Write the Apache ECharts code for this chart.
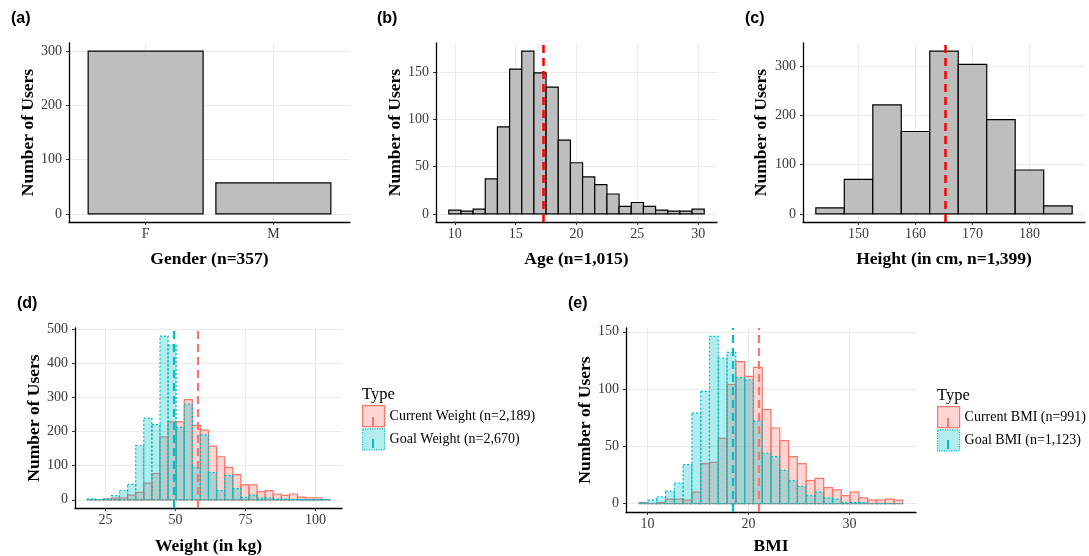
<!DOCTYPE html>
<html>
<head>
<meta charset="utf-8">
<script src="https://cdn.jsdelivr.net/npm/echarts@6/dist/echarts.min.js"></script>
<style>
  html, body { margin: 0; padding: 0; background: #fff; }
  #chart { width: 1089px; height: 556px; }
</style>
</head>
<body>
<div id="chart"></div>
<script>
// ---- data ----
const genderCats = ['F', 'M'];
const genderCounts = [300, 57];

const ageBins = [10, 11, 12, 13, 14, 15, 16, 17, 18, 19, 20, 21, 22, 23, 24, 25, 26, 27, 28, 29, 30];
const ageCounts = [4, 3, 5, 37, 92, 153, 172, 149, 134, 78, 54, 39, 31, 21, 8, 12, 8, 4, 3, 3, 5];
const ageMean = 17.28;

const heightBins = [145, 150, 155, 160, 165, 170, 175, 180, 185];
const heightCounts = [12, 70, 221, 167, 330, 303, 191, 89, 16];
const heightMean = 165.2;

const weightBins = [19.85, 22.74, 25.63, 28.52, 31.41, 34.30, 37.19, 40.08, 42.97, 45.86,
  48.75, 51.64, 54.53, 57.42, 60.31, 63.20, 66.09, 68.98, 71.87, 74.76,
  77.65, 80.54, 83.43, 86.32, 89.21, 92.10, 94.99, 97.88, 100.77, 103.66];
const weightCurrent = [0, 0, 2, 5, 6, 14, 22, 49, 77, 184, 228, 228, 293, 218, 204, 157, 126, 95, 74, 44,
  44, 24, 27, 17, 13, 17, 8, 6, 6, 1];
const weightGoal = [3, 1, 3, 12, 28, 45, 159, 239, 220, 479, 453, 212, 280, 96, 190, 80, 27, 71, 33, 7,
  14, 5, 6, 2, 2, 1, 0, 0, 0, 1];
const weightMeans = [57.8, 49.4];

const bmiBins = [9.61, 10.48, 11.35, 12.22, 13.09, 13.96, 14.83, 15.70, 16.57, 17.44,
  18.31, 19.18, 20.05, 20.92, 21.79, 22.66, 23.53, 24.40, 25.27, 26.14,
  27.01, 27.88, 28.75, 29.62, 30.49, 31.36, 32.23, 33.10, 33.97, 34.84];
const bmiCurrent = [1, 0, 1, 4, 4, 3, 10, 35, 36, 57, 104, 124, 111, 119, 82, 66, 55, 41, 35, 20,
  22, 14, 12, 7, 10, 5, 3, 3, 4, 3];
const bmiGoal = [1, 3, 6, 11, 18, 34, 79, 98, 146, 127, 132, 110, 108, 72, 44, 41, 29, 20, 15, 7,
  10, 5, 4, 1, 1, 1, 0, 0, 0, 0];
const bmiMeans = [21.05, 18.48];

const weightLegend = ['Current Weight (n=2,189)', 'Goal Weight (n=2,670)'];
const bmiLegend = ['Current BMI (n=991)', 'Goal BMI (n=1,123)'];

const genderTicksY = [0, 100, 200, 300];
const ageTicksX = [10, 15, 20, 25, 30];
const ageTicksY = [0, 50, 100, 150];
const heightTicksX = [150, 160, 170, 180];
const heightTicksY = [0, 100, 200, 300];
const weightTicksX = [25, 50, 75, 100];
const weightTicksY = [0, 100, 200, 300, 400, 500];
const bmiTicksX = [10, 20, 30];
const bmiTicksY = [0, 50, 100, 150];

// ---- styling ----
const SERIF = "'Liberation Serif', 'Times New Roman', serif";
const SANS = "'Liberation Sans', Arial, sans-serif";
const RED = '#F8766D', TEAL = '#00BFC4';
const RED_FILL = 'rgba(248,118,109,0.3)', TEAL_FILL = 'rgba(0,191,196,0.3)';

// ggplot-like 5% padding on continuous scales
const expand = (lo, hi) => { const d = (hi - lo) * 0.05; return [lo - d, hi + d]; };

const chart = echarts.init(document.getElementById('chart'));

function xAxis(grid, range, ticks, name, gap, fmt) {
  return {
    type: 'value', gridIndex: grid, min: range[0], max: range[1],
    name: name, nameLocation: 'middle', nameGap: gap,
    nameTextStyle: { fontFamily: SERIF, fontWeight: 'bold', fontSize: 17.5, color: '#000' },
    axisLine: { show: true, onZero: false, lineStyle: { color: '#000', width: 1.3 } },
    axisTick: { show: true, length: 3, customValues: ticks, lineStyle: { color: '#333' } },
    axisLabel: { customValues: ticks, margin: 5, fontFamily: SERIF, fontSize: 14, color: '#3a3a3a', formatter: fmt },
    splitLine: { show: true, lineStyle: { color: '#ebebeb', width: 1 } }
  };
}

function yAxis(grid, range, ticks, gap) {
  return {
    type: 'value', gridIndex: grid, min: range[0], max: range[1],
    name: 'Number of Users', nameLocation: 'middle', nameGap: gap,
    nameTextStyle: { fontFamily: SERIF, fontWeight: 'bold', fontSize: 17.5, color: '#000' },
    axisLine: { show: true, onZero: false, lineStyle: { color: '#000', width: 1.3 } },
    axisTick: { show: true, length: 3, customValues: ticks, lineStyle: { color: '#333' } },
    axisLabel: { customValues: ticks, margin: 7, fontFamily: SERIF, fontSize: 14, color: '#3a3a3a' },
    splitLine: { show: true, lineStyle: { color: '#ebebeb', width: 1 } }
  };
}

// one rect per bin, placed through the axis scales
function histSeries(grid, name, bins, counts, width, style) {
  return {
    type: 'custom', name: name, xAxisIndex: grid, yAxisIndex: grid,
    data: bins.map((b, i) => [b, counts[i]]),
    itemStyle: { color: style.fill, borderColor: style.stroke, borderWidth: style.lineWidth },
    silent: true,
    renderItem: (params, api) => {
      const c = api.value(0), v = api.value(1);
      const p0 = api.coord([c - width / 2, v]);
      const p1 = api.coord([c + width / 2, 0]);
      return {
        type: 'rect',
        shape: { x: p0[0], y: p0[1], width: p1[0] - p0[0], height: p1[1] - p0[1] },
        style: style
      };
    }
  };
}

function meanLine(grid, value, color, width) {
  return {
    type: 'line', xAxisIndex: grid, yAxisIndex: grid, data: [], silent: true,
    markLine: {
      silent: true, symbol: 'none', label: { show: false },
      lineStyle: { color: color, width: width, type: [8, 5] },
      data: [{ xAxis: value }]
    }
  };
}

const greyStyle = { fill: '#bebebe', stroke: '#000', lineWidth: 1.2 };
const curStyle = { fill: RED_FILL, stroke: RED, lineWidth: 1.2 };
const goalStyle = { fill: TEAL_FILL, stroke: TEAL, lineWidth: 1.2, lineDash: [2, 2] };

const ageW = ageBins[1] - ageBins[0];
const heightW = heightBins[1] - heightBins[0];
const weightW = weightBins[1] - weightBins[0];
const bmiW = bmiBins[1] - bmiBins[0];

const ageX = expand(ageBins[0] - ageW / 2, ageBins[ageBins.length - 1] + ageW / 2);
const heightX = expand(heightBins[0] - heightW / 2, heightBins[heightBins.length - 1] + heightW / 2);
const weightX = expand(weightBins[0] - weightW / 2, weightBins[weightBins.length - 1] + weightW / 2);
const bmiX = expand(bmiBins[0] - bmiW / 2, bmiBins[bmiBins.length - 1] + bmiW / 2);

const genderY = expand(0, Math.max(...genderCounts));
const ageY = expand(0, Math.max(...ageCounts));
const heightY = expand(0, Math.max(...heightCounts));
const weightY = expand(0, Math.max(...weightCurrent, ...weightGoal));
const bmiY = expand(0, Math.max(...bmiCurrent, ...bmiGoal));

const panelLabel = (text, left, top) => ({
  text: text, left: left, top: top, padding: 0,
  textStyle: { fontFamily: SANS, fontWeight: 'bold', fontSize: 16, color: '#000' }
});

const legendText = { fontFamily: SERIF, fontSize: 14, color: '#000' };

const legendItems = names => names.map((n, i) => ({
  name: n,
  itemStyle: i === 0
    ? { color: RED_FILL, borderColor: RED, borderWidth: 1.2 }
    : { color: TEAL_FILL, borderColor: TEAL, borderWidth: 1.2, borderType: 'dotted' }
}));

const option = {
  animation: false,
  backgroundColor: '#fff',
  title: [
    panelLabel('(a)', 11, 11),
    panelLabel('(b)', 377, 11),
    panelLabel('(c)', 745, 11),
    panelLabel('(d)', 17, 296),
    panelLabel('(e)', 568, 296)
  ],
  grid: [
    { left: 69, top: 43, width: 281, height: 179 },
    { left: 436, top: 43, width: 281, height: 179 },
    { left: 803, top: 43, width: 282, height: 179 },
    { left: 75, top: 328, width: 267, height: 180 },
    { left: 626, top: 328, width: 290, height: 184 }
  ],
  xAxis: [
    xAxis(0, [0.4, 2.6], [1, 2], 'Gender (n=357)', 28, v => genderCats[Math.round(v) - 1]),
    xAxis(1, ageX, ageTicksX, 'Age (n=1,015)', 28),
    xAxis(2, heightX, heightTicksX, 'Height (in cm, n=1,399)', 28),
    xAxis(3, weightX, weightTicksX, 'Weight (in kg)', 29),
    xAxis(4, bmiX, bmiTicksX, 'BMI', 25)
  ],
  yAxis: [
    yAxis(0, genderY, genderTicksY, 32),
    yAxis(1, ageY, ageTicksY, 31),
    yAxis(2, heightY, heightTicksY, 33),
    yAxis(3, weightY, weightTicksY, 31),
    yAxis(4, bmiY, bmiTicksY, 32)
  ],
  legend: [
    {
      data: legendItems(weightLegend),
      orient: 'vertical', left: 362, top: 405, padding: 0,
      itemWidth: 22, itemHeight: 21, itemGap: 1, icon: 'rect',
      selectedMode: false, textStyle: legendText
    },
    {
      data: legendItems(bmiLegend),
      orient: 'vertical', left: 937, top: 406, padding: 0,
      itemWidth: 22, itemHeight: 21, itemGap: 1, icon: 'rect',
      selectedMode: false, textStyle: legendText
    }
  ],
  graphic: [
    { type: 'text', left: 362, top: 386, style: { text: 'Type', font: '16.5px ' + SERIF, fill: '#000' } },
    { type: 'text', left: 937, top: 387, style: { text: 'Type', font: '16.5px ' + SERIF, fill: '#000' } },
    // the mean-line glyph inside each legend key
    { type: 'rect', left: 372, top: 417, shape: { width: 2, height: 9 }, style: { fill: RED } },
    { type: 'rect', left: 372, top: 439, shape: { width: 2, height: 9 }, style: { fill: TEAL } },
    { type: 'rect', left: 947, top: 418, shape: { width: 2, height: 9 }, style: { fill: RED } },
    { type: 'rect', left: 947, top: 440, shape: { width: 2, height: 9 }, style: { fill: TEAL } }
  ],
  series: [
    histSeries(0, 'Gender', genderCats.map((c, i) => i + 1), genderCounts, 0.9, greyStyle),
    histSeries(1, 'Age', ageBins, ageCounts, ageW, greyStyle),
    meanLine(1, ageMean, '#ff0000', 2.5),
    histSeries(2, 'Height', heightBins, heightCounts, heightW, greyStyle),
    meanLine(2, heightMean, '#ff0000', 2.5),
    histSeries(3, weightLegend[0], weightBins, weightCurrent, weightW, curStyle),
    histSeries(3, weightLegend[1], weightBins, weightGoal, weightW, goalStyle),
    meanLine(3, weightMeans[0], RED, 2.2),
    meanLine(3, weightMeans[1], TEAL, 2.2),
    histSeries(4, bmiLegend[0], bmiBins, bmiCurrent, bmiW, curStyle),
    histSeries(4, bmiLegend[1], bmiBins, bmiGoal, bmiW, goalStyle),
    meanLine(4, bmiMeans[0], RED, 2.2),
    meanLine(4, bmiMeans[1], TEAL, 2.2)
  ]
};

chart.setOption(option);
</script>
</body>
</html>
